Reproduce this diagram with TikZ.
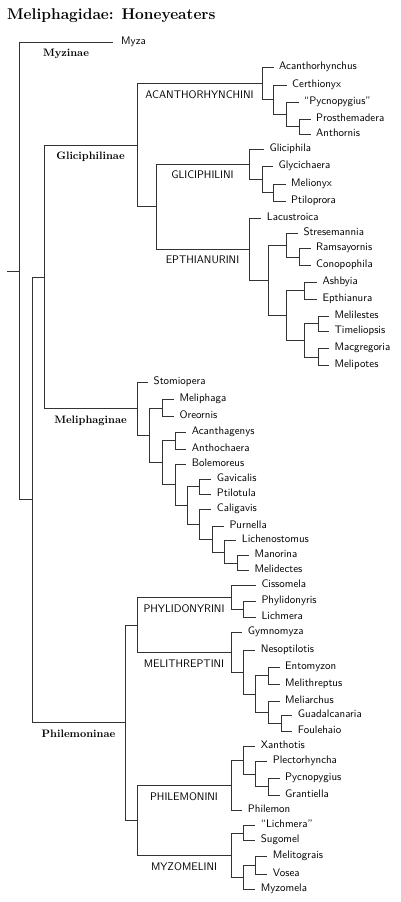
\documentclass[tikz,border=0pt]{standalone}
\usepackage{fontspec}
\begin{document}
\begin{tikzpicture}[x=1pt,y=-1pt,
  leaf/.style={anchor=mid west, inner xsep=5.5pt, inner ysep=1pt, xshift=-5.5pt,
    font=\sffamily\fontsize{10.9}{13}\selectfont},
  myzagap/.style={inner xsep=8pt, xshift=-2.5pt},
  tribe/.style={anchor=base, inner sep=0pt, font=\sffamily\fontsize{11}{13}\selectfont},
  subfam/.style={anchor=base, inner sep=0pt, font=\bfseries\fontsize{10.8}{13}\selectfont},
  branch/.style={draw=black!80, line width=0.8pt}]
\useasboundingbox (0,0) rectangle (400,902);
\fill[white] (0,0) rectangle (400,902);

\node[anchor=base west, inner sep=0pt, font=\bfseries\fontsize{15.5}{18}\selectfont] (title) at (7,19.5) {Meliphagidae: Honeyeaters};

% internal nodes
\coordinate (stub) at (7,270.9);
\coordinate (root) at (19,270.9);
\coordinate (N1) at (32,499.8);
\coordinate (GL) at (44,277.1);
\coordinate (T1) at (137,145.4);
\coordinate (T2) at (156,206.8);
\coordinate (A0) at (262,83.8);
\coordinate (A1) at (273,99.8);
\coordinate (A2) at (286,114.7);
\coordinate (A3) at (299,126.7);
\coordinate (G0) at (249,164.5);
\coordinate (G1) at (262,179.6);
\coordinate (G2) at (273,192.5);
\coordinate (E0) at (249,249.3);
\coordinate (E1) at (268,280.4);
\coordinate (E2) at (286,245.2);
\coordinate (E3) at (299,257);
\coordinate (E4) at (286,315.5);
\coordinate (E5) at (304,290.7);
\coordinate (E6) at (304,340.4);
\coordinate (E7) at (318,323.8);
\coordinate (E8) at (318,357);
\coordinate (M0) at (137,408.8);
\coordinate (M1) at (149,435.3);
\coordinate (M2) at (162,408);
\coordinate (M3) at (162,462.7);
\coordinate (M4) at (175,440.7);
\coordinate (M5) at (175,484.7);
\coordinate (M6) at (187,505.3);
\coordinate (M7) at (199,486.7);
\coordinate (M8) at (199,524);
\coordinate (M9) at (212,539);
\coordinate (M10) at (224,552);
\coordinate (M11) at (237,563.2);
\coordinate (PH) at (125,722.5);
\coordinate (U1) at (137,625);
\coordinate (U2) at (137,820);
\coordinate (P2) at (231,597.7);
\coordinate (P3) at (243,609.7);
\coordinate (P4) at (231,652.3);
\coordinate (P5) at (243,672);
\coordinate (P6) at (255,694);
\coordinate (P7) at (268,675.8);
\coordinate (P8) at (268,712.2);
\coordinate (P9) at (281,723.3);
\coordinate (Q1) at (231,785);
\coordinate (Q2) at (243,760.1);
\coordinate (Q3) at (255,774.2);
\coordinate (Q4) at (268,786.7);
\coordinate (R0) at (231,855.1);
\coordinate (R1) at (243,832.9);
\coordinate (R2) at (243,877.3);
\coordinate (R3) at (255,865.4);

% leaves
\node[leaf, myzagap] (myza) at (121,42) {Myza};
\node[leaf] (acanthorhynchus) at (279,67.7) {Acanthorhynchus};
\node[leaf] (certhionyx) at (292,85) {Certhionyx};
\node[leaf] (pycnoq) at (304,102.7) {“Pycnopygius”};
\node[leaf] (prosthemadera) at (316,119.3) {Prosthemadera};
\node[leaf] (anthornis) at (316,134) {Anthornis};
\node[leaf] (gliciphila) at (269.3,149.3) {Gliciphila};
\node[leaf] (glycichaera) at (278.3,166.7) {Glycichaera};
\node[leaf] (melionyx) at (291,184) {Melionyx};
\node[leaf] (ptiloprora) at (291,201) {Ptiloprora};
\node[leaf] (lacustroica) at (266.7,218.3) {Lacustroica};
\node[leaf] (stresemannia) at (303.3,233.3) {Stresemannia};
\node[leaf] (ramsayornis) at (316,248.3) {Ramsayornis};
\node[leaf] (conopophila) at (316,265.7) {Conopophila};
\node[leaf] (ashbyia) at (322.3,282.3) {Ashbyia};
\node[leaf] (epthianura) at (322.3,299) {Epthianura};
\node[leaf] (melilestes) at (334.3,316.7) {Melilestes};
\node[leaf] (timeliopsis) at (334.3,331) {Timeliopsis};
\node[leaf] (macgregoria) at (334.3,348.3) {Macgregoria};
\node[leaf] (melipotes) at (334.3,365.7) {Melipotes};
\node[leaf] (stomiopera) at (153.5,382.3) {Stomiopera};
\node[leaf] (meliphaga) at (179.3,399.3) {Meliphaga};
\node[leaf] (oreornis) at (179.3,416.7) {Oreornis};
\node[leaf] (acanthagenys) at (191.7,432.3) {Acanthagenys};
\node[leaf] (anthochaera) at (191.7,449) {Anthochaera};
\node[leaf] (bolemoreus) at (191.7,464) {Bolemoreus};
\node[leaf] (gavicalis) at (216.7,479.3) {Gavicalis};
\node[leaf] (ptilotula) at (216.7,494) {Ptilotula};
\node[leaf] (caligavis) at (216.7,509) {Caligavis};
\node[leaf] (purnella) at (229.3,526) {Purnella};
\node[leaf] (lichenostomus) at (241.7,540.7) {Lichenostomus};
\node[leaf] (manorina) at (254.3,555.7) {Manorina};
\node[leaf] (melidectes) at (254.3,570.7) {Melidectes};
\node[leaf] (cissomela) at (261.3,585.7) {Cissomela};
\node[leaf] (phylidonyris) at (261.3,601.7) {Phylidonyris};
\node[leaf] (lichmera) at (261.3,617.7) {Lichmera};
\node[leaf] (gymnomyza) at (247.7,632.7) {Gymnomyza};
\node[leaf] (nesoptilotis) at (260.7,650) {Nesoptilotis};
\node[leaf] (entomyzon) at (285,667.3) {Entomyzon};
\node[leaf] (melithreptus) at (285,684.3) {Melithreptus};
\node[leaf] (meliarchus) at (285,701) {Meliarchus};
\node[leaf] (guadalcanaria) at (297.7,715.7) {Guadalcanaria};
\node[leaf] (foulehaio) at (297.7,731) {Foulehaio};
\node[leaf] (xanthotis) at (260.7,746) {Xanthotis};
\node[leaf] (plectorhyncha) at (272.7,761.7) {Plectorhyncha};
\node[leaf] (pycnopygius) at (285,778.3) {Pycnopygius};
\node[leaf] (grantiella) at (285,795) {Grantiella};
\node[leaf] (philemon) at (247.7,810) {Philemon};
\node[leaf] (lichmeraq) at (260.7,825) {“Lichmera”};
\node[leaf] (sugomel) at (260.7,840.7) {Sugomel};
\node[leaf] (melitograis) at (272.7,856.7) {Melitograis};
\node[leaf] (vosea) at (272.7,874) {Vosea};
\node[leaf] (myzomela) at (260.7,889.3) {Myzomela};

% connectors
\draw[branch] (stub) -- (root);
\foreach \p/\c in {root/myza.mid west, root/N1, N1/GL, N1/PH, GL/T1, GL/M0, T1/A0, T1/T2, T2/G0, T2/E0,
  A0/acanthorhynchus.mid west, A0/A1, A1/certhionyx.mid west, A1/A2, A2/pycnoq.mid west, A2/A3,
  A3/prosthemadera.mid west, A3/anthornis.mid west,
  G0/gliciphila.mid west, G0/G1, G1/glycichaera.mid west, G1/G2, G2/melionyx.mid west, G2/ptiloprora.mid west,
  E0/lacustroica.mid west, E0/E1, E1/E2, E1/E4, E2/stresemannia.mid west, E2/E3,
  E3/ramsayornis.mid west, E3/conopophila.mid west, E4/E5, E4/E6, E5/ashbyia.mid west, E5/epthianura.mid west,
  E6/E7, E6/E8, E7/melilestes.mid west, E7/timeliopsis.mid west, E8/macgregoria.mid west, E8/melipotes.mid west,
  M0/stomiopera.mid west, M0/M1, M1/M2, M1/M3, M2/meliphaga.mid west, M2/oreornis.mid west, M3/M4, M3/M5,
  M4/acanthagenys.mid west, M4/anthochaera.mid west, M5/bolemoreus.mid west, M5/M6, M6/M7, M6/M8,
  M7/gavicalis.mid west, M7/ptilotula.mid west, M8/caligavis.mid west, M8/M9, M9/purnella.mid west, M9/M10,
  M10/lichenostomus.mid west, M10/M11, M11/manorina.mid west, M11/melidectes.mid west,
  PH/U1, PH/U2, U1/P2, U1/P4, P2/cissomela.mid west, P2/P3, P3/phylidonyris.mid west, P3/lichmera.mid west,
  P4/gymnomyza.mid west, P4/P5, P5/nesoptilotis.mid west, P5/P6, P6/P7, P6/P8,
  P7/entomyzon.mid west, P7/melithreptus.mid west, P8/meliarchus.mid west, P8/P9,
  P9/guadalcanaria.mid west, P9/foulehaio.mid west,
  U2/Q1, U2/R0, Q1/Q2, Q1/philemon.mid west, Q2/xanthotis.mid west, Q2/Q3, Q3/plectorhyncha.mid west, Q3/Q4,
  Q4/pycnopygius.mid west, Q4/grantiella.mid west,
  R0/R1, R0/R2, R1/lichmeraq.mid west, R1/sugomel.mid west, R2/R3, R2/myzomela.mid west,
  R3/melitograis.mid west, R3/vosea.mid west}
  \draw[branch] (\p) |- (\c);

% tribe labels
\node[tribe] (acanthorhynchini) at (199.5,98.3) {ACANTHORHYNCHINI};
\node[tribe] (gliciphilini) at (202.5,178.5) {GLICIPHILINI};
\node[tribe] (epthianurini) at (202.5,263.5) {EPTHIANURINI};
\node[tribe] (phylidonyrini) at (184,612) {PHYLIDONYRINI};
\node[tribe] (melithreptini) at (184,667) {MELITHREPTINI};
\node[tribe] (philemonini) at (184,800) {PHILEMONINI};
\node[tribe] (myzomelini) at (184,870) {MYZOMELINI};

% subfamily labels
\node[subfam] (myzinae) at (66,56.5) {Myzinae};
\node[subfam] (gliciphilinae) at (90.5,159.5) {Gliciphilinae};
\node[subfam] (meliphaginae) at (90.5,423.3) {Meliphaginae};
\node[subfam] (philemoninae) at (78.5,737.3) {Philemoninae};
\end{tikzpicture}
\end{document}
